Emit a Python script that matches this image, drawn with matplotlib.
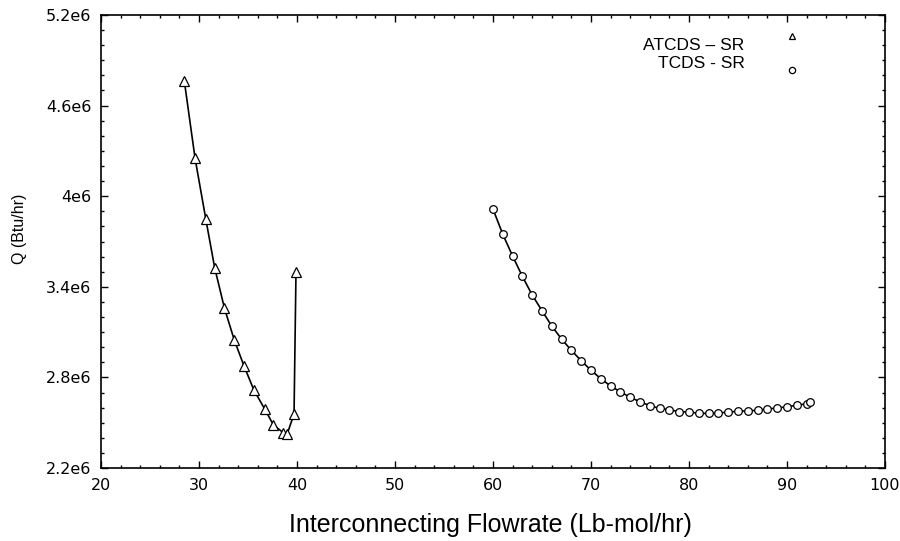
import matplotlib
matplotlib.use("Agg")
import matplotlib.pyplot as plt
from matplotlib.ticker import MultipleLocator, FuncFormatter

plt.rcParams['font.family'] = ['Liberation Sans', 'DejaVu Sans']

# ATCDS - SR series
atcds_x = [28.5, 29.6, 30.7, 31.6, 32.6, 33.6, 34.6, 35.6, 36.7, 37.6, 38.6, 39.0, 39.7, 39.9]
atcds_q = [4.765e6, 4.251e6, 3.847e6, 3.527e6, 3.258e6, 3.048e6, 2.875e6, 2.717e6,
           2.591e6, 2.485e6, 2.434e6, 2.425e6, 2.558e6, 3.50e6]

# TCDS - SR series
tcds_x = [60, 61, 62, 63, 64, 65, 66, 67, 68, 69, 70, 71, 72, 73, 74, 75, 76, 77,
          78, 79, 80, 81, 82, 83, 84, 85, 86, 87, 88, 89, 90, 91, 92, 92.4]
tcds_q = [3.915e6, 3.748e6, 3.604e6, 3.469e6, 3.346e6, 3.242e6, 3.140e6, 3.054e6,
          2.979e6, 2.911e6, 2.847e6, 2.792e6, 2.743e6, 2.705e6, 2.668e6, 2.639e6,
          2.613e6, 2.595e6, 2.586e6, 2.573e6, 2.571e6, 2.562e6, 2.562e6, 2.564e6,
          2.571e6, 2.575e6, 2.579e6, 2.582e6, 2.591e6, 2.597e6, 2.606e6, 2.615e6,
          2.626e6, 2.635e6]

y_ticks = [2.2e6, 2.8e6, 3.4e6, 4.0e6, 4.6e6, 5.2e6]


def sci_label(v, pos):
    s = "%.1f" % (v / 1e6)
    if s.endswith(".0"):
        s = s[:-2]
    return s + "e6"


fig = plt.figure(figsize=(9, 5.41), dpi=100)
ax = fig.add_axes([0.1122, 0.1349, 0.8711, 0.8374])

ax.plot(atcds_x, atcds_q, color='black', lw=1.2, marker='^', ms=6.5,
        mfc='white', mec='black', mew=0.9)
ax.plot(tcds_x, tcds_q, color='black', lw=1.2, marker='o', ms=5.5,
        mfc='white', mec='black', mew=0.9)

ax.set_xlim(20, 100)
ax.set_ylim(2.2e6, 5.2e6)
ax.xaxis.set_major_locator(MultipleLocator(10))
ax.xaxis.set_minor_locator(MultipleLocator(2))
ax.set_yticks(y_ticks)
ax.yaxis.set_minor_locator(MultipleLocator(1e5))
ax.yaxis.set_major_formatter(FuncFormatter(sci_label))

ax.tick_params(which='both', direction='in', top=True, right=True, labelsize=11.5)
ax.tick_params(which='major', length=5, width=1)
ax.tick_params(which='minor', length=2.5, width=1)
ax.tick_params(axis='x', pad=7)
ax.tick_params(axis='y', pad=7)
for lbl in ax.get_xticklabels() + ax.get_yticklabels():
    lbl.set_family('DejaVu Sans')
for sp in ax.spines.values():
    sp.set_linewidth(1.2)

ax.set_xlabel("Interconnecting Flowrate (Lb-mol/hr)", fontsize=18)
ax.set_ylabel("Q (Btu/hr)", fontsize=11.5)
ax.xaxis.set_label_coords(0.497, -0.100)
ax.yaxis.set_label_coords(-0.094, 0.528)

# legend drawn by hand, as in the original
ax.text(0.821, 0.932, "ATCDS \u2013 SR", transform=ax.transAxes, ha='right',
        va='center', fontsize=12.5)
ax.text(0.821, 0.894, "TCDS - SR", transform=ax.transAxes, ha='right',
        va='center', fontsize=12.5)
ax.plot([0.881], [0.954], transform=ax.transAxes, marker='^', ms=5,
        mfc='white', mec='black', mew=0.9, ls='none')
ax.plot([0.881], [0.879], transform=ax.transAxes, marker='o', ms=4.5,
        mfc='white', mec='black', mew=0.9, ls='none')

fig.savefig("out.png", dpi=100)
